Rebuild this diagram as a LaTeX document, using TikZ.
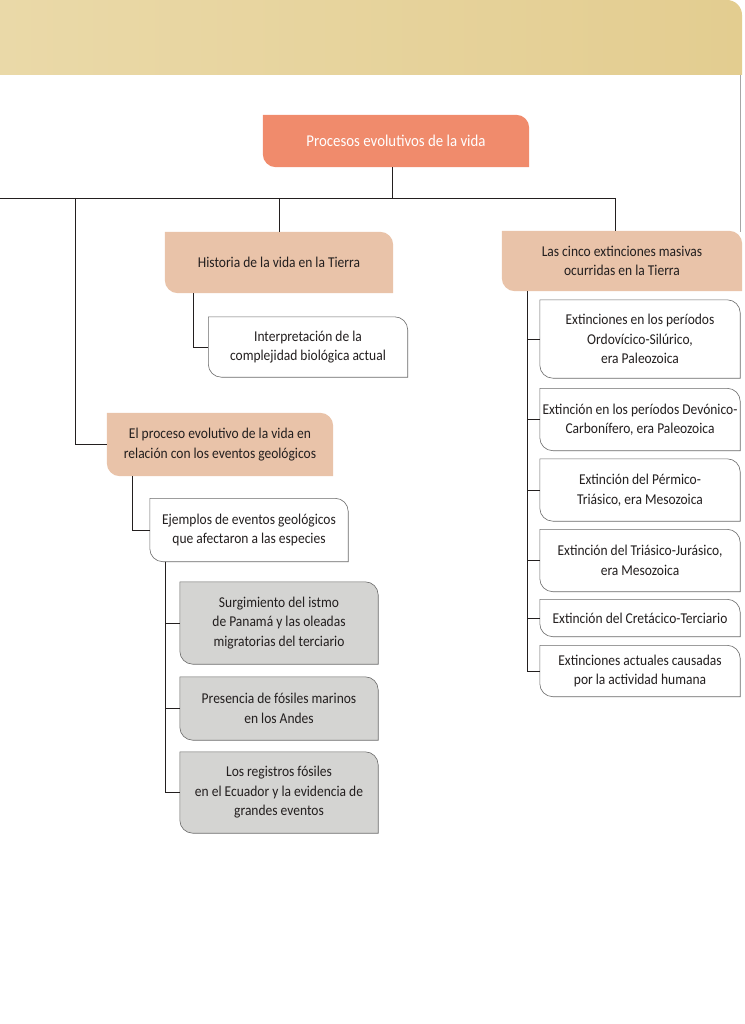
\documentclass[tikz,border=0pt]{standalone}
\usepackage{fontspec}
\setmainfont{Carlito}[FakeStretch=0.9]
\usetikzlibrary{backgrounds}
\definecolor{hdr}{HTML}{EAD9A8}
\definecolor{hdrR}{HTML}{E3CD90}
\definecolor{rootc}{HTML}{F08B6C}
\definecolor{salmon}{HTML}{E9C3A9}
\definecolor{grayfill}{HTML}{D4D4D2}
\definecolor{grayline}{HTML}{6A6A6A}
\definecolor{ink}{HTML}{231F1F}
\def\lr{13pt}
\newcommand{\leafbox}[3]{%
  \draw[#3, fill=#2, line width=0.6pt] (#1.north west) -- ([xshift=-\lr]#1.north east)
    arc[start angle=90,end angle=0,radius=\lr] -- (#1.south east)
    -- ([xshift=\lr]#1.south west) arc[start angle=270,end angle=180,radius=\lr] -- cycle;}
\tikzset{
  bx/.style={inner sep=0pt, align=center, font=\fontsize{15}{19.5}\selectfont, text=ink},
  conn/.style={draw=ink, line width=0.7pt}
}
\begin{document}
\begin{tikzpicture}[x=1pt,y=-1pt]
\useasboundingbox (0,0) rectangle (744,1024);
% header band
\shade[left color=hdr, right color=hdrR] (0,0) -- (727,0) arc[start angle=90,end angle=0,radius=15pt] -- (742,75) -- (0,75) -- cycle;
\draw[gray!70, line width=0.5pt] (740,75) -- (740,232);

% nodes
\node[bx, text=white, font=\fontsize{16.5}{20}\selectfont, minimum width=266pt, minimum height=52pt] (root) at (396,141) {Procesos evolutivos de la vida};
\node[bx, minimum width=228pt, minimum height=61pt] (hist) at (279,262.5) {Historia de la vida en la Tierra};
\node[bx, minimum width=240pt, minimum height=60pt] (cinco) at (622,261) {Las cinco extinciones masivas\\ocurridas en la Tierra};
\node[bx, minimum width=199pt, minimum height=60pt] (interp) at (308,347) {Interpretación de la\\complejidad biológica actual};
\node[bx, minimum width=226pt, minimum height=63pt] (proceso) at (220,444.5) {El proceso evolutivo de la vida en\\relación con los eventos geológicos};
\node[bx, minimum width=198pt, minimum height=63pt] (ejemplos) at (249,530) {Ejemplos de eventos geológicos\\que afectaron a las especies};
\node[bx, minimum width=198pt, minimum height=82pt] (surg) at (279,623) {Surgimiento del istmo\\de Panamá y las oleadas\\migratorias del terciario};
\node[bx, minimum width=198pt, minimum height=63pt] (pres) at (279,708.5) {Presencia de fósiles marinos\\en los Andes};
\node[bx, minimum width=198pt, minimum height=81pt] (reg) at (279,792.5) {Los registros fósiles\\en el Ecuador y la evidencia de\\grandes eventos};
\node[bx, minimum width=200pt, minimum height=78pt] (ord) at (640,339) {Extinciones en los períodos\\Ordovícico-Silúrico,\\era Paleozoica};
\node[bx, minimum width=200pt, minimum height=62pt] (dev) at (640,419.5) {Extinción en los períodos Devónico-\\Carbonífero, era Paleozoica};
\node[bx, minimum width=200pt, minimum height=62pt] (perm) at (640,490) {Extinción del Pérmico-\\Triásico, era Mesozoica};
\node[bx, minimum width=200pt, minimum height=62pt] (trias) at (640,560.5) {Extinción del Triásico-Jurásico,\\era Mesozoica};
\node[bx, minimum width=200pt, minimum height=37pt] (cret) at (640,618) {Extinción del Cretácico-Terciario};
\node[bx, minimum width=200pt, minimum height=51pt] (act) at (640,671) {Extinciones actuales causadas\\por la actividad humana};

% box shapes
\begin{pgfonlayer}{background}
\leafbox{root}{rootc}{draw=none}
\leafbox{hist}{salmon}{draw=none}
\leafbox{cinco}{salmon}{draw=none}
\leafbox{proceso}{salmon}{draw=none}
\foreach \n in {interp,ejemplos,ord,dev,perm,trias,cret,act}{\leafbox{\n}{white}{draw=grayline}}
\foreach \n in {surg,pres,reg}{\leafbox{\n}{grayfill}{draw=grayline}}
\end{pgfonlayer}

% connectors
\coordinate (busL) at (0,198);
\coordinate (busR) at (615,198);
\coordinate (lx) at (75,198);
\draw[conn] (busL) -- (busR);
\draw[conn] ([xshift=-4pt]root.south) -- ([xshift=-4pt]root.south |- busL);
\draw[conn] (hist.north |- busL) -- (hist.north);
\draw[conn] (busR) -- (busR |- cinco.north);
\draw[conn] (lx) |- (proceso.west);
\draw[conn] ([xshift=-86pt]hist.south) |- (interp.west);
\draw[conn] ([xshift=-88pt]proceso.south) |- (ejemplos.west);
\foreach \n in {surg,pres,reg}{\draw[conn] ([xshift=-84pt]ejemplos.south) |- (\n.west);}
\foreach \n in {ord,dev,perm,trias,cret,act}{\draw[conn] ([xshift=-95pt]cinco.south) |- (\n.west);}
\end{tikzpicture}
\end{document}
